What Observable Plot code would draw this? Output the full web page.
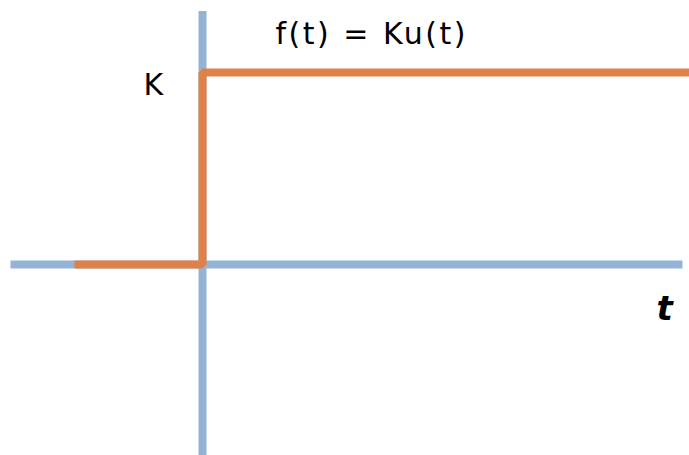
<!DOCTYPE html>
<html>
<head>
<meta charset="utf-8">
<script src="https://cdn.jsdelivr.net/npm/d3@7"></script>
<script src="https://cdn.jsdelivr.net/npm/@observablehq/plot@0.6"></script>
<style>
  html, body { margin: 0; padding: 0; background: #fff; }
</style>
</head>
<body>
<div id="chart"></div>
<script>
// Horizontal (t) axis: endpoints in t, at f = 0
const axisT = [-3.84, 9.6];
// Vertical (f) axis: endpoints in f, at t = 0
const axisF = [-1.0, 1.32];
// Step function f(t) = K u(t), K = 1
const stepT = [-2.56, 0, 0, 9.8];
const stepF = [0, 0, 1, 1];
// Labels
const labelText = ["f(t) = Ku(t)", "K"];
const labelT = [1.46, -1.18];
const labelF = [1.15, 0.885];
const tLabel = ["t"];

const hAxis = axisT.map(t => ({t, f: 0}));
const vAxis = axisF.map(f => ({t: 0, f}));
const step = stepT.map((t, i) => ({t, f: stepF[i]}));
const labels = labelText.map((s, i) => ({s, t: labelT[i], f: labelF[i]}));

const chart = Plot.plot({
  width: 689,
  height: 455,
  margin: 0,
  x: {domain: [-4.04, 9.74], axis: null},
  y: {domain: [-0.995, 1.375], axis: null},
  marks: [
    Plot.line(hAxis, {x: "t", y: "f", stroke: "#95b4d5", strokeWidth: 8, strokeLinecap: "butt"}),
    Plot.line(vAxis, {x: "t", y: "f", stroke: "#95b4d5", strokeWidth: 8, strokeLinecap: "butt"}),
    Plot.line(step, {x: "t", y: "f", stroke: "#df8248", strokeWidth: 8, strokeLinecap: "butt", strokeLinejoin: "miter"}),
    Plot.text(labels, {x: "t", y: "f", text: "s", textAnchor: "start", lineAnchor: "bottom", fontSize: 30, fill: "#000", fontFamily: "DejaVu Sans", className: "lbl"}),
    Plot.text(tLabel, {x: [9.08], y: [-0.29], text: d => d, textAnchor: "start", lineAnchor: "bottom", fontSize: 34, fontStyle: "italic", fontWeight: "bold", fill: "#000", fontFamily: "DejaVu Sans"})
  ]
});
document.getElementById("chart").appendChild(chart);
// Match title width of the reference
d3.select(chart).selectAll(".lbl text").each(function() {
  if (this.textContent.startsWith("f(t)")) {
    this.setAttribute("textLength", 190);
    this.setAttribute("lengthAdjust", "spacing");
  }
});
</script>
</body>
</html>
